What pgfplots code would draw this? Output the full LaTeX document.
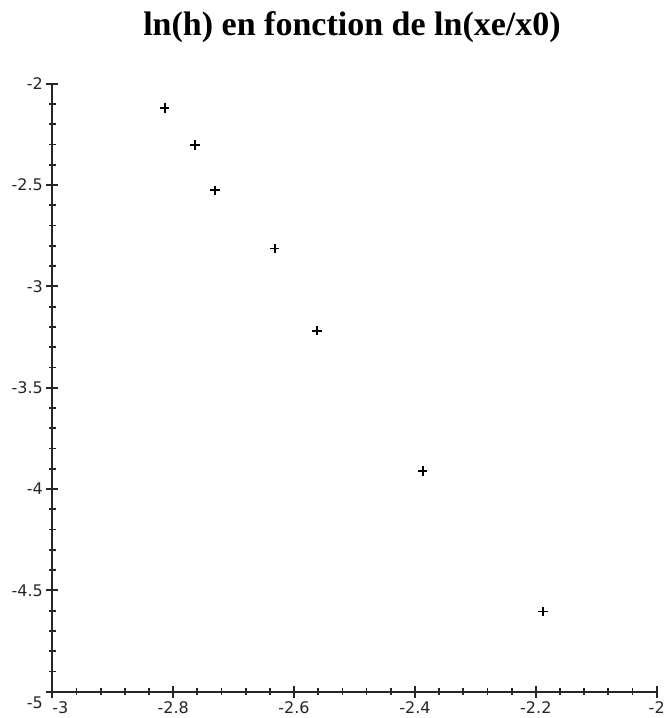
\documentclass[border=0pt]{standalone}
\usepackage{fontspec}
\setmainfont{Liberation Serif}
\newfontfamily\tickfont{DejaVu Sans}
\usepackage{pgfplots}
\pgfplotsset{compat=1.18}
\begin{document}
\begin{tikzpicture}[x=1pt,y=1pt]
\path[use as bounding box] (0,0) rectangle (665,718);
\begin{axis}[
  at={(52.3pt,26.3pt)}, anchor=south west,
  scale only axis, width=604.4pt, height=608pt,
  xmin=-3, xmax=-2, ymin=-5, ymax=-2,
  axis lines=left,
  axis line style={-, line width=2.2pt, black!85},
  xtick={-3,-2.8,-2.6,-2.4,-2.2,-2},
  xticklabels={\makebox[0pt][l]{-3},-2.8,-2.6,-2.4,-2.2,-2},
  ytick={-5,-4.5,-4,-3.5,-3,-2.5,-2},
  yticklabels={\raisebox{-17pt}[0pt][0pt]{-5},-4.5,-4,-3.5,-3,-2.5,-2},
  minor tick num=4,
  tick align=center,
  major tick length=12pt, minor tick length=6.5pt,
  every tick/.style={line width=1.8pt, black!85},
  ticklabel style={font=\tickfont\fontsize{16}{16}\selectfont, text=black!85},
  clip=false,
]
\addplot[only marks, mark=+, mark size=4.7pt, mark options={line width=1.7pt, black}] coordinates {
(-2.814,-2.120)
(-2.764,-2.303)
(-2.731,-2.526)
(-2.632,-2.813)
(-2.562,-3.219)
(-2.387,-3.912)
(-2.188,-4.605)
};
\end{axis}
\node[font=\fontsize{34}{34}\selectfont\bfseries, anchor=base] at (352,682) {ln(h) en fonction de ln(xe/x0)};
\end{tikzpicture}
\end{document}
